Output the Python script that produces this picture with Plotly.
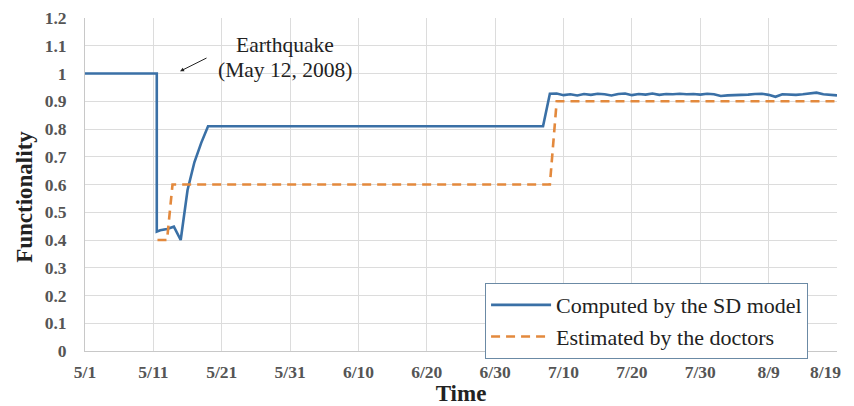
import plotly.graph_objects as go

# Days after May 1, 2008
sd_days = [0, 10.5, 10.5, 11, 12, 13, 14, 15, 16, 17, 18, 67,
           68, 69, 70, 71, 72, 73, 74, 75, 76, 77, 78, 79, 80, 81, 82, 83, 84, 85,
           86, 87, 88, 89, 90, 91, 92, 93, 94, 95, 96, 97, 98, 99, 100, 101, 102,
           103, 104, 105, 106, 107, 108, 109, 110]
sd_values = [1.0, 1.0, 0.43, 0.435, 0.44, 0.448, 0.40, 0.58, 0.68, 0.75, 0.81, 0.81,
             0.927, 0.928, 0.922, 0.925, 0.921, 0.926, 0.923, 0.927, 0.925, 0.921, 0.926,
             0.928, 0.922, 0.926, 0.924, 0.928, 0.923, 0.926, 0.925, 0.927, 0.925, 0.926,
             0.924, 0.927, 0.925, 0.919, 0.921, 0.922, 0.921, 0.924, 0.926, 0.927, 0.923,
             0.916, 0.925, 0.924, 0.923, 0.925, 0.927, 0.931, 0.925, 0.922, 0.921]

doc_days = [10.6, 12, 12.8, 68, 69, 110]
doc_values = [0.40, 0.40, 0.60, 0.60, 0.90, 0.90]

tick_days = [0, 10, 20, 30, 40, 50, 60, 70, 80, 90, 100, 110]
tick_labels = ["5/1", "5/11", "5/21", "5/31", "6/10", "6/20", "6/30",
               "7/10", "7/20", "7/30", "8/9", "8/19"]

BLUE = "#3a70a6"
ORANGE = "#e3893d"
SERIF = "Liberation Serif"
TICKFONT = dict(family=SERIF, size=17.5, color="#555", weight="bold")

fig = go.Figure()
fig.add_trace(go.Scatter(x=sd_days, y=sd_values, mode="lines",
                         name="Computed by the SD model",
                         line=dict(color=BLUE, width=2.6)))
fig.add_trace(go.Scatter(x=doc_days, y=doc_values, mode="lines",
                         name="Estimated by the doctors",
                         line=dict(color=ORANGE, width=2.6, dash="9px,6px")))

fig.add_annotation(x=29.3, y=1.103, xref="x", yref="y", text="Earthquake",
                   showarrow=False, font=dict(family=SERIF, size=21.5, color="#222"))
fig.add_annotation(x=29.3, y=1.012, xref="x", yref="y", text="(May 12, 2008)",
                   showarrow=False, font=dict(family=SERIF, size=21.5, color="#222"))
fig.add_annotation(x=13.9, y=1.008, xref="x", yref="y", ax=28, ay=-14,
                   text="", showarrow=True, arrowhead=2, arrowsize=0.8,
                   arrowwidth=1, arrowcolor="#222")

# last x tick label kept inside the window, as in the reference
fig.add_annotation(x=tick_days[-1], y=0, xref="x", yref="paper", yshift=-21,
                   xshift=6, xanchor="right", yanchor="middle",
                   text="<b>" + tick_labels[-1] + "</b>", showarrow=False,
                   font=TICKFONT)

# y axis title
fig.add_annotation(x=-0.08, y=0.4625, xref="paper", yref="paper",
                   xanchor="center", yanchor="middle",
                   text="<b>Functionality</b>", textangle=-90, showarrow=False,
                   font=dict(family=SERIF, size=23, color="#222"))

# The page body adds an 8px offset, so the figure is sized to fit the window.
fig.update_layout(
    width=846, height=398,
    margin=dict(l=77, r=17, t=10, b=55),
    paper_bgcolor="white", plot_bgcolor="white",
    font=dict(family=SERIF, color="#444"),
    showlegend=True,
    legend=dict(x=0.532, y=0.204, xanchor="left", yanchor="top",
                bgcolor="white", bordercolor="#6b8aa5", borderwidth=1,
                font=dict(family=SERIF, size=22, color="#222"),
                tracegroupgap=0, itemwidth=60),
    xaxis=dict(range=[0, 110], tickmode="array", tickvals=tick_days,
               ticktext=tick_labels[:-1] + [""], showgrid=True, gridcolor="#dcdcdc",
               gridwidth=1, zeroline=False, showline=True, linecolor="#c8c8c8",
               ticks="", ticklabelstandoff=5, automargin=False,
               tickfont=TICKFONT,
               title=dict(text="<b>Time</b>", standoff=11,
                          font=dict(family=SERIF, size=23, color="#222"))),
    yaxis=dict(range=[0, 1.2], tickmode="linear", tick0=0, dtick=0.1,
               showgrid=True, gridcolor="#dcdcdc", gridwidth=1, zeroline=False,
               showline=True, linecolor="#c8c8c8", ticks="", ticklabelstandoff=14,
               automargin=False, tickfont=TICKFONT),
)

fig.write_html("out.html")
